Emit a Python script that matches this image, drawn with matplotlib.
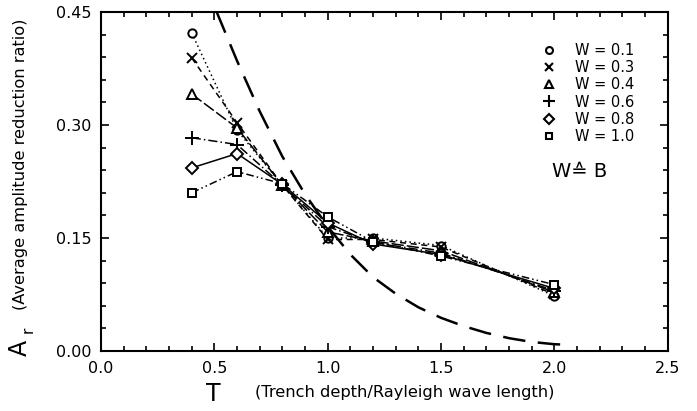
import matplotlib
matplotlib.use("Agg")
import matplotlib.pyplot as plt
from matplotlib.ticker import MultipleLocator
from matplotlib.lines import Line2D

# data
T = [0.4, 0.6, 0.8, 1.0, 1.2, 1.5, 2.0]
w_labels = ["W = 0.1", "W = 0.3", "W = 0.4", "W = 0.6", "W = 0.8", "W = 1.0"]
ar_w01 = [0.422, 0.293, 0.220, 0.150, 0.150, 0.140, 0.073]
ar_w03 = [0.389, 0.303, 0.220, 0.148, 0.148, 0.138, 0.075]
ar_w04 = [0.341, 0.296, 0.220, 0.158, 0.146, 0.133, 0.078]
ar_w06 = [0.283, 0.274, 0.220, 0.165, 0.144, 0.130, 0.080]
ar_w08 = [0.243, 0.262, 0.221, 0.170, 0.142, 0.128, 0.083]
ar_w10 = [0.210, 0.238, 0.222, 0.178, 0.145, 0.126, 0.088]

# dashed reference curve
T_ref = [0.51, 0.6, 0.7, 0.8, 0.9, 1.0, 1.1, 1.2, 1.3, 1.4, 1.5, 1.6, 1.7,
         1.8, 1.9, 2.0, 2.08]
ar_ref = [0.45, 0.385, 0.318, 0.258, 0.208, 0.165, 0.128, 0.098, 0.076,
          0.058, 0.044, 0.033, 0.024, 0.017, 0.012, 0.009, 0.008]

series = [ar_w01, ar_w03, ar_w04, ar_w06, ar_w08, ar_w10]
markers = ["o", "x", "^", "+", "D", "s"]
msizes = [6, 7, 7, 10, 6, 6]
styles = [(0, (1, 2)), (0, (4, 3)), (0, (8, 2)), (0, (6, 2, 1, 2)), "-",
          (0, (5, 2, 1, 2, 1, 2))]

fig = plt.figure(figsize=(6.97, 4.11), dpi=100)
ax = fig.add_axes([0.145, 0.146, 0.813, 0.825])

handles = []
for y, m, ms, ls, lab in zip(series, markers, msizes, styles, w_labels):
    ax.plot(T, y, color="black", linestyle=ls, linewidth=1.1, marker=m,
            markersize=ms, markerfacecolor="white", markeredgecolor="black",
            markeredgewidth=1.4)
    handles.append(Line2D([], [], linestyle="none", marker=m, markersize=ms - 1,
                          markerfacecolor="white", markeredgecolor="black",
                          markeredgewidth=1.5, label=lab))

ax.plot(T_ref, ar_ref, color="black", linestyle=(0, (9, 5)), linewidth=1.8)

ax.set_xlim(0, 2.5)
ax.set_ylim(0, 0.45)
ax.xaxis.set_major_locator(MultipleLocator(0.5))
ax.xaxis.set_minor_locator(MultipleLocator(0.1))
ax.yaxis.set_major_locator(MultipleLocator(0.15))
ax.yaxis.set_minor_locator(MultipleLocator(0.03))
ax.xaxis.set_major_formatter(lambda v, p: f"{v:.1f}")
ax.yaxis.set_major_formatter(lambda v, p: f"{v:.2f}")
ax.tick_params(which="both", direction="in", top=True, right=True,
               labelsize=11.5, width=1.2)
ax.tick_params(which="major", length=6, pad=7)
ax.tick_params(which="minor", length=3.5)
for s in ax.spines.values():
    s.set_linewidth(1.5)

leg = ax.legend(handles=handles, loc="upper left", frameon=False,
                bbox_to_anchor=(0.765, 0.93), fontsize=10.5,
                labelspacing=0.15, handletextpad=1.3, handlelength=1.0,
                borderpad=0)

ax.text(0.795, 0.528, "W\u2259 B", transform=ax.transAxes, fontsize=14,
        ha="left", va="center")

# axis titles
fig.text(0.306, 0.042, "T", fontsize=17, ha="center", va="center")
fig.text(0.366, 0.045, "(Trench depth/Rayleigh wave length)", fontsize=11.7,
         ha="left", va="center")
fig.text(0.029, 0.153, "A", fontsize=17, rotation=90, ha="center",
         va="center")
fig.text(0.040, 0.197, "r", fontsize=11, rotation=90, ha="center",
         va="center")
fig.text(0.029, 0.60, "(Average amplitude reduction ratio)", fontsize=11.7,
         rotation=90, ha="center", va="center")

fig.savefig("out.png", dpi=100)
